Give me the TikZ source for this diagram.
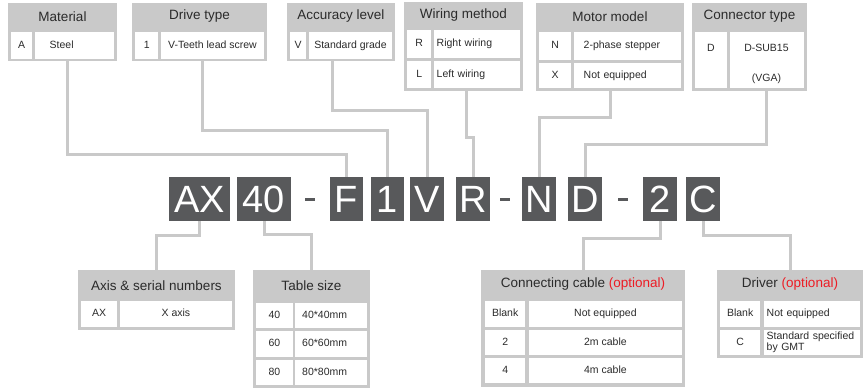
\documentclass[tikz,border=0pt]{standalone}
\usepackage{fontspec}
\setmainfont{Liberation Sans}
\usepackage{xcolor}

\begin{document}
\begin{tikzpicture}[x=1pt,y=-1pt,
  frame/.style={fill=framegray,anchor=north west,inner sep=0pt},
  head/.style={font=\fontsize{13.5}{15}\selectfont,text=ink},
  ctext/.style={text=ink,inner sep=0pt,font=\fontsize{10.5}{11}\selectfont},
  cell/.style={ctext,fill=white,anchor=north west,text height=7.6pt,text depth=2.2pt},
  lcell/.style 2 args={cell,align=left,inner xsep=#1,text width=#2},
  codebox/.style={fill=codegray,text=white,minimum height=44pt,inner sep=0pt,font=\fontsize{38}{40}\selectfont},
  codedash/.style={fill=codegray,minimum width=10pt,minimum height=3pt,inner sep=0pt},
  link/.style={draw=linegray,line width=3pt}]
\definecolor{framegray}{HTML}{C9C9C9}
\definecolor{linegray}{HTML}{C9C9C9}
\definecolor{codegray}{HTML}{58595B}
\definecolor{ink}{HTML}{2B2B2B}
\definecolor{optred}{HTML}{ED1C24}
\useasboundingbox (0,0) rectangle (865,388);

% model code
\foreach \txt/\cx/\w in {AX/199.5/61,40/264/54,F/346.5/33,1/387.5/33,V/427/34,R/473/34,N/539/34,D/585/34,2/660/34,C/703/34}
  {\node[codebox,minimum width=\w pt] (c\txt) at (\cx,199) {\txt};}
\foreach \i/\cx in {1/310,2/505,3/623}
  {\node[codedash] (dash\i) at (\cx,199.5) {};}

% Material
\node[frame,minimum width=109pt,minimum height=58pt] (mat) at (8,3) {};
\node[head] (mat-h) at (62.5,16.5) {Material};
\node[cell,minimum width=21pt,minimum height=27pt] (mat-k) at (11,32) {A};
\node[lcell={15pt}{49.5pt},minimum height=27pt] (mat-d) at (34.5,32) {Steel};

% Drive type
\node[frame,minimum width=135pt,minimum height=58pt] (drv) at (132,3) {};
\node[head] (drv-h) at (199.5,16.5) {Drive type};
\node[cell,minimum width=23pt,minimum height=27pt] (drv-k) at (135,32) {1};
\node[cell,minimum width=103.5pt,minimum height=27pt] (drv-d) at (160.5,32) {V-Teeth lead screw};

% Accuracy level
\node[frame,minimum width=108pt,minimum height=58pt] (acc) at (287,3) {};
\node[head] (acc-h) at (341,16.5) {Accuracy level};
\node[cell,minimum width=16pt,minimum height=27pt] (acc-k) at (290,32) {V};
\node[cell,minimum width=83.5pt,minimum height=27pt] (acc-d) at (308.5,32) {Standard grade};

% Wiring method
\node[frame,minimum width=119pt,minimum height=89pt] (wir) at (404,2) {};
\node[head] (wir-h) at (463.5,15.5) {Wiring method};
\node[cell,minimum width=24pt,minimum height=28pt] (wir-k1) at (407,30) {R};
\node[lcell={3pt}{80.5pt},minimum height=28pt] (wir-d1) at (433.5,30) {Right wiring};
\node[cell,minimum width=24pt,minimum height=27pt] (wir-k2) at (407,61) {L};
\node[lcell={3pt}{80.5pt},minimum height=27pt] (wir-d2) at (433.5,61) {Left wiring};

% Motor model
\node[frame,minimum width=148pt,minimum height=88pt] (mot) at (536,3) {};
\node[head] (mot-h) at (610,16.5) {Motor model};
\node[cell,minimum width=32pt,minimum height=28pt] (mot-k1) at (539,32) {N};
\node[lcell={10pt}{87.5pt},minimum height=28pt] (mot-d1) at (573.5,32) {2-phase stepper};
\node[cell,minimum width=32pt,minimum height=25.5pt] (mot-k2) at (539,62.5) {X};
\node[lcell={10pt}{87.5pt},minimum height=25.5pt] (mot-d2) at (573.5,62.5) {Not equipped};

% Connector type
\node[frame,minimum width=115pt,minimum height=88pt] (con) at (692,3) {};
\node[head] (con-h) at (749.5,16.5) {Connector type};
\node[cell,minimum width=32pt,minimum height=56pt] (con-k) at (695,32) {};
\node[cell,minimum width=74.5pt,minimum height=56pt] (con-d) at (729.5,32) {};
\node[ctext] (con-kt) at (711,47.5) {D};
\node[ctext] (con-dt1) at (766.5,47.5) {D-SUB15};
\node[ctext] (con-dt2) at (766.5,78.5) {(VGA)};

% Axis & serial numbers
\node[frame,minimum width=157pt,minimum height=60pt] (axs) at (78,270) {};
\node[head] (axs-h) at (156.5,285.5) {Axis \& serial numbers};
\node[cell,minimum width=36pt,minimum height=26pt] (axs-k) at (81,301) {AX};
\node[cell,minimum width=112.5pt,minimum height=26pt] (axs-d) at (119.5,301) {X axis};

% Table size
\node[frame,minimum width=117pt,minimum height=118pt] (tbl) at (253,270) {};
\node[head] (tbl-h) at (311.5,286) {Table size};
\foreach \i/\y/\h/\k in {1/302.5/25.5/40,2/330.5/26/60,3/359.5/25.5/80}
  {\node[cell,minimum width=36.5pt,minimum height=\h pt] (tbl-k\i) at (256,\y) {\k};
   \node[lcell={7pt}{58pt},minimum height=\h pt] (tbl-d\i) at (295,\y) {\k*\k mm};}

% Connecting cable
\node[frame,minimum width=204pt,minimum height=117pt] (cab) at (481,270) {};
\node[head] (cab-h) at (583,284.5) {Connecting cable \textcolor{optred}{(optional)}};
\foreach \i/\y/\h/\k/\d in {1/301/26/Blank/Not equipped,2/329.5/25.5/2/2m cable,3/357.5/25.5/4/4m cable}
  {\node[cell,minimum width=40pt,minimum height=\h pt] (cab-k\i) at (485,\y) {\k};
   \node[cell,minimum width=153.5pt,minimum height=\h pt] (cab-d\i) at (528.5,\y) {\d};}

% Driver
\node[frame,minimum width=146pt,minimum height=88pt] (dvr) at (717,270) {};
\node[head] (dvr-h) at (790,284.5) {Driver \textcolor{optred}{(optional)}};
\node[cell,minimum width=40pt,minimum height=26pt] (dvr-k1) at (720,301) {Blank};
\node[lcell={3pt}{90.5pt},minimum height=26pt] (dvr-d1) at (763.5,301) {Not equipped};
\node[cell,minimum width=40pt,minimum height=25.5pt] (dvr-k2) at (720,329.5) {C};
\node[lcell={3pt}{90.5pt},minimum height=25.5pt,text height=,text depth=,font=\fontsize{10.5}{10.5}\selectfont] (dvr-d2) at (763.5,329.5) {Standard specified\\by GMT};

% connectors
\draw[link] ([xshift=4.5pt]mat.south) -- ++(0,93) -| (cF.north);
\draw[link] ([xshift=2.5pt]drv.south) -- ++(0,69) -| (c1.north);
\draw[link] ([xshift=-9pt]acc.south) -- ++(0,49) -| (cV.north);
\draw[link] ([xshift=2.5pt]wir.south) -- ++(0,46) -| (cR.north);
\draw[link] (mot.south) -- ++(0,26) -| (cN.north);
\draw[link] ([xshift=17pt]con.south) -- ++(0,53) -| (cD.north);
\draw[link] (cAX.south) -- ++(0,14) -| (axs.north);
\draw[link] (c40.south) -- ++(0,13) -| (tbl.north);
\draw[link] (c2.south) -- ++(0,17) -| (cab.north);
\draw[link] (cC.south) -- ++(0,14) -| (dvr.north);
\end{tikzpicture}
\end{document}
